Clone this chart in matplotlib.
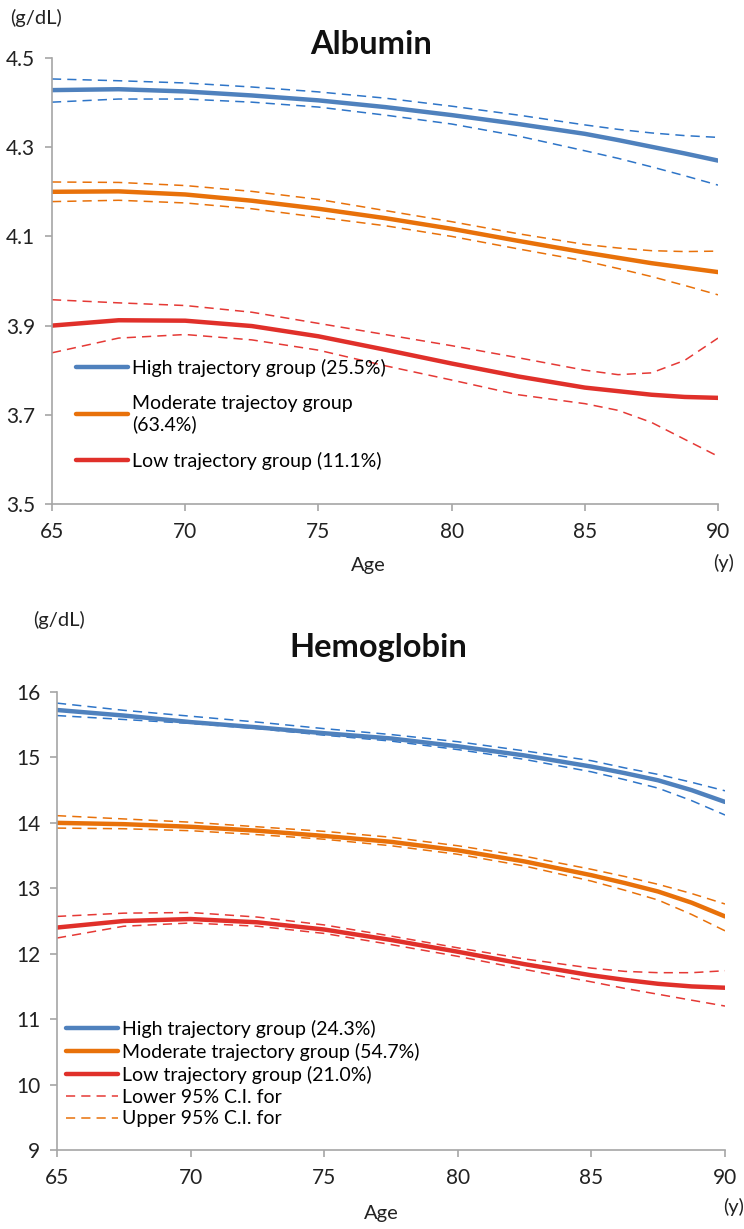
import matplotlib
matplotlib.use("Agg")
import matplotlib.pyplot as plt

plt.rcParams['font.family'] = ['Lato', 'DejaVu Sans']

ages = [65, 67.5, 70, 72.5, 75, 77.5, 80, 82.5, 85, 86.25, 87.5, 88.75, 90]

# Albumin (g/dL)
alb_high = [4.428, 4.430, 4.425, 4.416, 4.405, 4.390, 4.372, 4.352, 4.330, 4.316, 4.301, 4.286, 4.270]
alb_high_up = [4.453, 4.449, 4.444, 4.435, 4.424, 4.410, 4.392, 4.372, 4.350, 4.340, 4.332, 4.326, 4.322]
alb_high_lo = [4.401, 4.408, 4.408, 4.401, 4.390, 4.372, 4.352, 4.325, 4.292, 4.275, 4.256, 4.236, 4.215]
alb_mod = [4.200, 4.201, 4.194, 4.180, 4.162, 4.141, 4.117, 4.090, 4.064, 4.052, 4.040, 4.030, 4.020]
alb_mod_up = [4.222, 4.221, 4.214, 4.201, 4.183, 4.158, 4.133, 4.106, 4.082, 4.074, 4.068, 4.066, 4.067]
alb_mod_lo = [4.178, 4.181, 4.175, 4.162, 4.143, 4.124, 4.100, 4.072, 4.045, 4.028, 4.010, 3.990, 3.969]
alb_low = [3.900, 3.912, 3.911, 3.899, 3.876, 3.846, 3.815, 3.786, 3.761, 3.753, 3.745, 3.740, 3.738]
alb_low_up = [3.958, 3.951, 3.945, 3.930, 3.905, 3.880, 3.855, 3.828, 3.800, 3.790, 3.794, 3.822, 3.872]
alb_low_lo = [3.839, 3.872, 3.880, 3.868, 3.845, 3.810, 3.778, 3.745, 3.725, 3.710, 3.683, 3.645, 3.607]

# Hemoglobin (g/dL)
hb_high = [15.725, 15.64, 15.54, 15.46, 15.37, 15.29, 15.17, 15.03, 14.86, 14.76, 14.65, 14.50, 14.32]
hb_high_up = [15.83, 15.72, 15.63, 15.54, 15.44, 15.35, 15.24, 15.10, 14.95, 14.84, 14.74, 14.62, 14.49]
hb_high_lo = [15.64, 15.58, 15.52, 15.44, 15.34, 15.25, 15.12, 14.97, 14.78, 14.66, 14.53, 14.34, 14.12]
hb_mod = [14.00, 13.98, 13.94, 13.88, 13.80, 13.71, 13.58, 13.41, 13.20, 13.08, 12.95, 12.78, 12.57]
hb_mod_up = [14.11, 14.06, 14.01, 13.94, 13.87, 13.78, 13.65, 13.49, 13.29, 13.18, 13.06, 12.92, 12.76]
hb_mod_lo = [13.92, 13.91, 13.88, 13.82, 13.75, 13.65, 13.52, 13.34, 13.11, 12.97, 12.82, 12.60, 12.35]
hb_low = [12.40, 12.50, 12.53, 12.48, 12.37, 12.21, 12.03, 11.84, 11.67, 11.60, 11.54, 11.50, 11.48]
hb_low_up = [12.57, 12.62, 12.63, 12.56, 12.44, 12.27, 12.09, 11.92, 11.78, 11.73, 11.71, 11.71, 11.74]
hb_low_lo = [12.24, 12.42, 12.47, 12.42, 12.31, 12.14, 11.96, 11.76, 11.57, 11.47, 11.38, 11.29, 11.20]

alb_labels = ["High trajectory group (25.5%)", "Moderate trajectoy group\n(63.4%)",
              "Low trajectory group (11.1%)"]
hb_labels = ["High trajectory group (24.3%)", "Moderate trajectory group (54.7%)",
             "Low trajectory group (21.0%)"]
ci_labels = ["Lower 95% C.I. for", "Upper 95% C.I. for"]

blue = "#4F81BD"
blue_d = "#2E75C8"
orange = "#E8710A"
red = "#E0302A"
red_d = "#E53935"
grey = "#A6A6A6"
txt = "#222222"

W, H = 744, 1229
fig = plt.figure(figsize=(W / 100, H / 100), dpi=100)


def fx(px):
    return px / W


def fy(py):
    return 1 - py / H


def style(ax, ymin, ymax, yticks, fmt):
    ax.set_xlim(65, 90)
    ax.set_ylim(ymin, ymax)
    ax.set_xticks([65, 70, 75, 80, 85, 90])
    ax.set_yticks(yticks)
    ax.set_yticklabels([fmt.format(v) for v in yticks])
    for s in ["top", "right"]:
        ax.spines[s].set_visible(False)
    for s in ["left", "bottom"]:
        ax.spines[s].set_color(grey)
        ax.spines[s].set_linewidth(1.2)
    ax.tick_params(axis="both", colors=grey, labelcolor=txt, labelsize=15,
                   length=5, width=1.2)
    ax.tick_params(axis="x", pad=8)
    ax.tick_params(axis="y", pad=7)


def draw(ax, mains, ups, los):
    cols = [blue, orange, red]
    dcols = [blue_d, orange, red_d]
    hs = []
    for m, u, l, c, dc in zip(mains, ups, los, cols, dcols):
        ax.plot(ages, u, color=dc, lw=1.1, ls=(0, (6, 4)))
        ax.plot(ages, l, color=dc, lw=1.1, ls=(0, (6, 4)))
        h, = ax.plot(ages, m, color=c, lw=3.2, solid_capstyle="round")
        hs.append(h)
    return hs


# ---- Albumin ----
ax1 = fig.add_axes([fx(52), fy(504), 666 / W, 446 / H])
style(ax1, 3.5, 4.5, [3.5, 3.7, 3.9, 4.1, 4.3, 4.5], "{:.1f}")
h1 = draw(ax1, [alb_high, alb_mod, alb_low], [alb_high_up, alb_mod_up, alb_low_up],
          [alb_high_lo, alb_mod_lo, alb_low_lo])
ax1.legend(h1, alb_labels, loc="upper left", bbox_to_anchor=(fx(68), fy(351)),
           bbox_transform=fig.transFigure, frameon=False, fontsize=14,
           handlelength=2.7, handletextpad=0.2, labelspacing=0.95, borderaxespad=0)
fig.text(fx(36), fy(18), "(g/dL)", ha="center", va="center", fontsize=14.5, color=txt)
fig.text(fx(371), fy(45), "Albumin", ha="center", va="center", fontsize=23.5,
         fontweight="bold", color="#111111")
fig.text(fx(368), fy(566), "Age", ha="center", va="center", fontsize=14.5, color=txt)
fig.text(fx(724), fy(563), "(y)", ha="center", va="center", fontsize=14.5, color=txt)

# ---- Hemoglobin ----
ax2 = fig.add_axes([fx(57), fy(1150), 668 / W, 458 / H])
style(ax2, 9, 16, list(range(9, 17)), "{:d}")
h2 = draw(ax2, [hb_high, hb_mod, hb_low], [hb_high_up, hb_mod_up, hb_low_up],
          [hb_high_lo, hb_mod_lo, hb_low_lo])
ci_lo, = ax2.plot([], [], color=red_d, lw=1.1, ls=(0, (6, 4)))
ci_up, = ax2.plot([], [], color=orange, lw=1.1, ls=(0, (6, 4)))
ax2.legend(h2 + [ci_lo, ci_up], hb_labels + ci_labels, loc="upper left",
           bbox_to_anchor=(fx(58), fy(1012)), bbox_transform=fig.transFigure,
           frameon=False, fontsize=14, handlelength=2.7, handletextpad=0.2,
           labelspacing=0.25, borderaxespad=0)
fig.text(fx(59), fy(620), "(g/dL)", ha="center", va="center", fontsize=14.5, color=txt)
fig.text(fx(378), fy(648), "Hemoglobin", ha="center", va="center", fontsize=23.5,
         fontweight="bold", color="#111111")
fig.text(fx(381), fy(1214), "Age", ha="center", va="center", fontsize=14.5, color=txt)
fig.text(fx(734), fy(1207), "(y)", ha="center", va="center", fontsize=14.5, color=txt)

fig.savefig("out.png", dpi=100)
